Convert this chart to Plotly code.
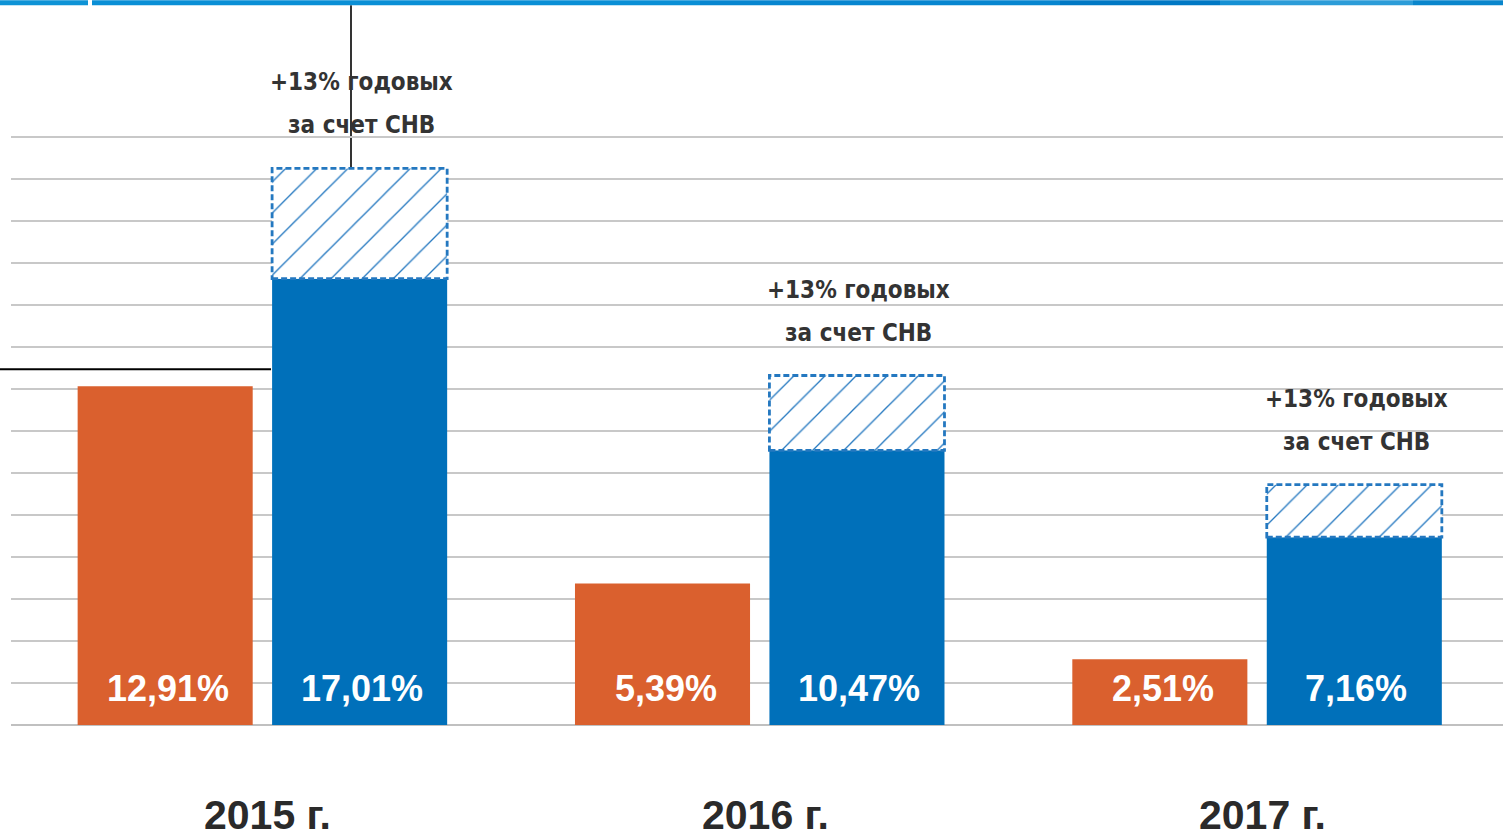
import plotly.graph_objects as go

# ---- data ----
years = ["2015 г.", "2016 г.", "2017 г."]
orange_vals = [12.91, 5.39, 2.51]
blue_vals = [17.01, 10.47, 7.16]
snv_extra = [4.2, 2.85, 2.0]
orange_labels = ["12,91%", "5,39%", "2,51%"]
blue_labels = ["17,01%", "10,47%", "7,16%"]
snv_line1 = "+13% годовых"
snv_line2 = "за счет СНВ"

# ---- style ----
ORANGE = "#DA602E"
BLUE = "#0070BA"
HATCH = "#2478C0"
W = 0.352
OFF_O = -0.366
OFF_B = 0.025
PX_PER_UNIT = 26.25
YMAX = 22.6

W_PX, H_PX = 1503, 838
L, R, B = 11, 0, 113
T = H_PX - B - YMAX * PX_PER_UNIT
plot_w = W_PX - L - R
plot_h = H_PX - T - B


def px_x(p):
    return (p - L) / plot_w


def px_y(p):
    return (H_PX - B - p) / plot_h


x = list(range(len(years)))

fig = go.Figure()
fig.add_bar(x=x, y=orange_vals, width=W, offset=OFF_O,
            marker=dict(color=ORANGE, line=dict(width=0)), hoverinfo="skip")
fig.add_bar(x=x, y=blue_vals, width=W, offset=OFF_B,
            marker=dict(color=BLUE, line=dict(width=0)), hoverinfo="skip")
fig.add_bar(x=x, y=snv_extra, base=blue_vals, width=W, offset=OFF_B,
            marker=dict(color="white", line=dict(width=0),
                        pattern=dict(shape="/", fgcolor=HATCH, bgcolor="white",
                                     size=22, solidity=0.06, fillmode="replace")),
            hoverinfo="skip")

shapes = []
annotations = []
for i in x:
    top = blue_vals[i] + snv_extra[i]
    shapes.append(dict(type="rect", xref="x", yref="y",
                       x0=i + OFF_B, x1=i + OFF_B + W, y0=blue_vals[i], y1=top,
                       line=dict(color=HATCH, width=2.8, dash="6px,3px"),
                       fillcolor="rgba(0,0,0,0)", layer="above"))
    cb = i + OFF_B + W / 2
    co = i + OFF_O + W / 2
    for txt, sh in ((snv_line1, 86), (snv_line2, 43)):
        annotations.append(dict(x=cb, y=top, xref="x", yref="y", text=txt,
                                showarrow=False, yanchor="middle", yshift=sh, xshift=2,
                                font=dict(family="DejaVu Sans Condensed, DejaVu Sans", size=24,
                                          color="#333333", weight="bold")))
    annotations.append(dict(x=co, y=0, xref="x", yref="y", text=orange_labels[i],
                            showarrow=False, yanchor="middle", yshift=37, xshift=3,
                            font=dict(family="Liberation Sans, Arial", size=36,
                                      color="white", weight="bold")))
    annotations.append(dict(x=cb, y=0, xref="x", yref="y", text=blue_labels[i],
                            showarrow=False, yanchor="middle", yshift=37, xshift=2,
                            font=dict(family="Liberation Sans, Arial", size=36,
                                      color="white", weight="bold")))
    annotations.append(dict(x=i, y=0, xref="x", yref="y", text=years[i],
                            showarrow=False, yanchor="middle", yshift=-90, xshift=8,
                            font=dict(family="Liberation Sans, Arial", size=41,
                                      color="#2a2a2a", weight="bold")))

# top decorative band
band = [(0, 88, "#0E93D6"), (92, 700, "#0A8FD6"), (700, 1060, "#0786D0"),
        (1060, 1220, "#0078C4"), (1220, 1260, "#1590D4"), (1260, 1413, "#2C9CD8"),
        (1413, 1503, "#0A86CC")]
for a, b, c in band:
    shapes.append(dict(type="rect", xref="paper", yref="paper",
                       x0=px_x(a), x1=px_x(b), y0=px_y(5), y1=px_y(0),
                       fillcolor=c, line=dict(width=0), layer="above"))

# black guide lines
shapes.append(dict(type="line", xref="paper", yref="paper",
                   x0=px_x(351), x1=px_x(351), y0=px_y(5),
                   y1=(blue_vals[0] + snv_extra[0]) / YMAX,
                   line=dict(color="black", width=1.6), layer="below"))
shapes.append(dict(type="line", xref="paper", yref="paper",
                   x0=px_x(0), x1=px_x(271), y0=px_y(369), y1=px_y(369),
                   line=dict(color="black", width=2), layer="above"))

fig.update_layout(
    width=W_PX, height=H_PX,
    margin=dict(l=L, r=R, t=T, b=B, pad=0),
    paper_bgcolor="white", plot_bgcolor="white",
    barmode="overlay", showlegend=False,
    shapes=shapes, annotations=annotations,
    xaxis=dict(range=[-0.5, 2.5], showgrid=False, zeroline=False,
               showticklabels=False, showline=False, fixedrange=True),
    yaxis=dict(range=[0, YMAX], tick0=0, dtick=1.6, showgrid=True,
               gridcolor="#C8C8C8", gridwidth=1.5, zeroline=True,
               zerolinecolor="#C0C0C0", zerolinewidth=1.5,
               showticklabels=False, showline=False, fixedrange=True),
)

fig.write_html("out.html", config={"displayModeBar": False},
               post_script="document.body.style.margin='0';document.body.style.overflow='hidden';")
